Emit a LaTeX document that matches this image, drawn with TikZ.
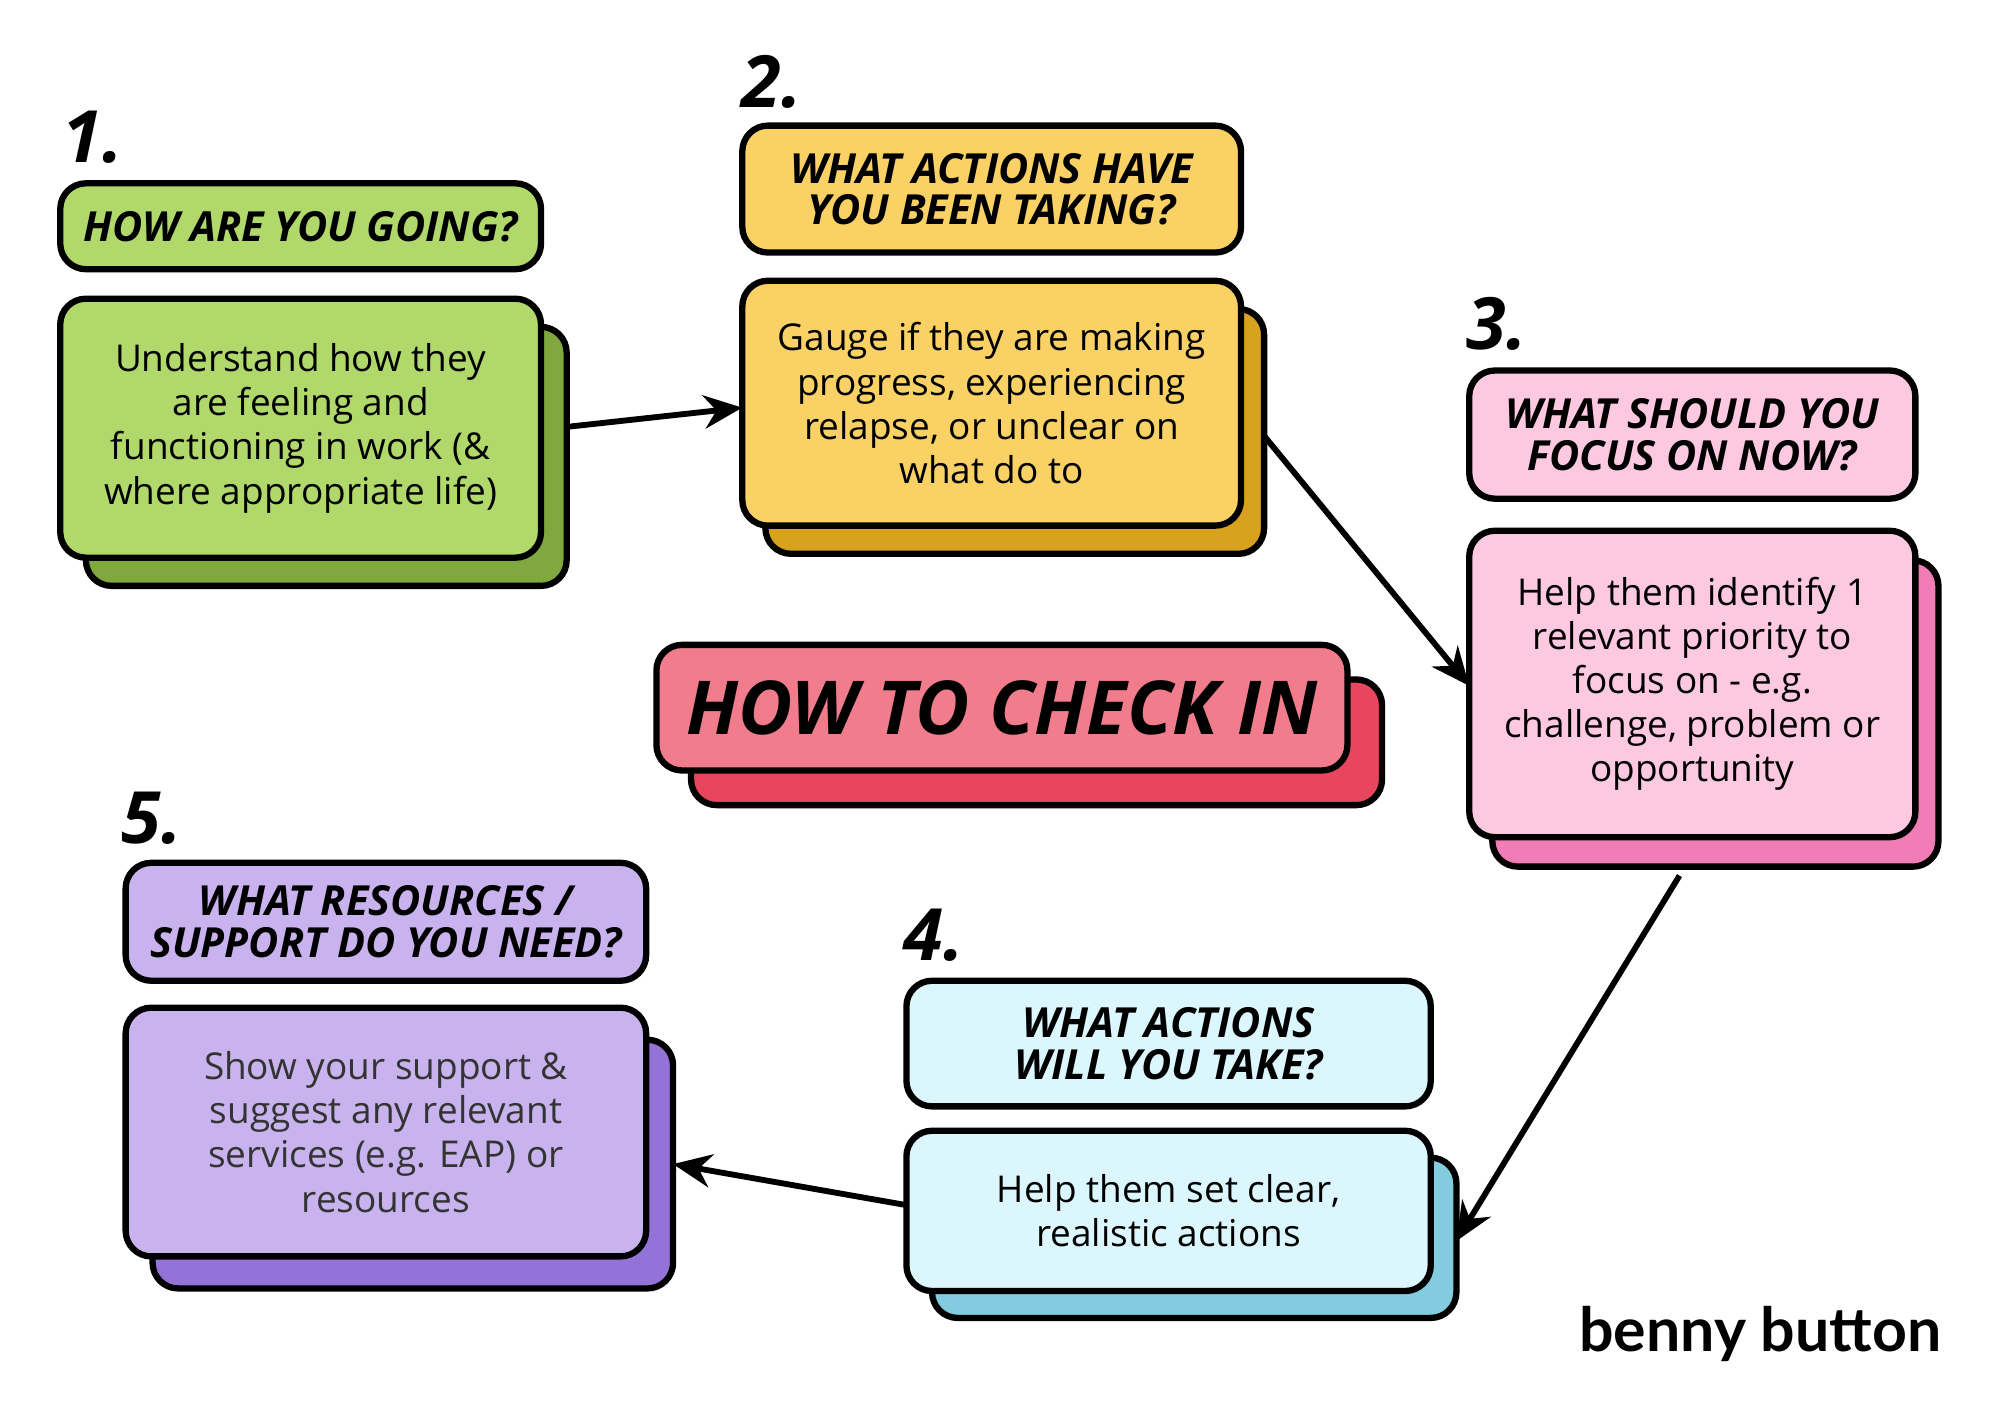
\documentclass[tikz,border=0pt]{standalone}
\usepackage{fontspec}
\setmainfont{Open Sans}
\newfontfamily\logofont{Lato}
\hyphenpenalty=10000
\usetikzlibrary{arrows.meta,positioning}
\definecolor{greenA}{HTML}{B0D86A}\definecolor{greenB}{HTML}{7FA83E}
\definecolor{yellowA}{HTML}{F9D164}\definecolor{yellowB}{HTML}{D9A21E}
\definecolor{pinkA}{HTML}{FDC9E0}\definecolor{pinkB}{HTML}{F07DB5}
\definecolor{redA}{HTML}{F07C8C}\definecolor{redB}{HTML}{E8465E}
\definecolor{lilacA}{HTML}{C8B3EE}\definecolor{lilacB}{HTML}{9473D8}
\definecolor{cyanA}{HTML}{DBF6FC}\definecolor{cyanB}{HTML}{83CBDE}
\tikzset{
  card/.style={draw=black, line width=1.4pt, rounded corners=2mm, anchor=north west, inner sep=0pt, align=center, outer sep=0pt},
  head/.style={card, font=\fontsize{9.2}{9.2}\selectfont\bfseries\itshape},
  body/.style={card, font=\fontsize{8.2}{9.8}\selectfont},
  num/.style={anchor=south west, inner sep=0pt, font=\fontsize{16}{16}\selectfont\bfseries\itshape},
  link/.style={draw=black, line width=1.3pt, -{Stealth[length=3mm,width=2.6mm]}}
}
\begin{document}
\begin{tikzpicture}[x=0.1mm,y=-0.1mm]
  \useasboundingbox[fill=white] (0,0) rectangle (1560,1103);
  % step 1
  \node[num] (n1) at (48,128) {1.};
  \node[head, fill=greenA, minimum width=37.5mm, minimum height=6.7mm] (h1) at (47,143) {HOW ARE YOU GOING?};
  \node[body, fill=greenB, minimum width=37.5mm, minimum height=20.2mm] (s1) at (67,255) {};
  \node[body, fill=greenA, minimum width=37.5mm, minimum height=20.2mm] (b1) at (47,233) {Understand how they\\are feeling and\\functioning in work (\&\\where appropriate life)};
  % step 2
  \node[num] (n2) at (578,85) {2.};
  \node[head, fill=yellowA, minimum width=38.9mm, minimum height=9.9mm] (h2) at (579,98) {WHAT ACTIONS HAVE\\YOU BEEN TAKING?};
  \node[body, fill=yellowB, minimum width=38.9mm, minimum height=19.1mm] (s2) at (597,241) {};
  \node[body, fill=yellowA, minimum width=38.9mm, minimum height=19.1mm] (b2) at (579,219) {Gauge if they are making\\progress, experiencing\\relapse, or unclear on\\what do to};
  % step 3
  \node[num] (n3) at (1143,274) {3.};
  \node[head, fill=pinkA, minimum width=34.8mm, minimum height=10mm] (h3) at (1146,289) {WHAT SHOULD YOU\\FOCUS ON NOW?};
  \node[body, fill=pinkB, minimum width=34.8mm, minimum height=23.9mm] (s3) at (1164,437) {};
  \node[body, fill=pinkA, minimum width=34.8mm, minimum height=23.9mm] (b3) at (1146,414) {Help them identify 1\\relevant priority to\\focus on - e.g.\\challenge, problem or\\opportunity};
  % title
  \node[card, fill=redB, minimum width=53.9mm, minimum height=9.8mm] (st) at (539,530) {};
  \node[card, fill=redA, minimum width=53.9mm, minimum height=9.8mm, font=\fontsize{16.5}{16.5}\selectfont\bfseries\itshape] (t) at (512,503) {HOW TO CHECK IN};
  % step 5
  \node[num] (n5) at (94,659) {5.};
  \node[head, fill=lilacA, minimum width=40.6mm, minimum height=9.2mm] (h5) at (98,673) {WHAT RESOURCES /\\SUPPORT DO YOU NEED?};
  \node[body, fill=lilacB, minimum width=40.6mm, minimum height=19.4mm] (s5) at (119,811) {};
  \node[body, fill=lilacA, minimum width=40.6mm, minimum height=19.4mm, text=black!80] (b5) at (98,786) {Show your support \&\\suggest any relevant\\services (e.g. EAP) or\\resources};
  % step 4
  \node[num] (n4) at (704,751) {4.};
  \node[head, fill=cyanA, minimum width=40.9mm, minimum height=9.8mm] (h4) at (707,765) {WHAT ACTIONS\\WILL YOU TAKE?};
  \node[body, fill=cyanB, minimum width=40.9mm, minimum height=12.5mm] (s4) at (727,903) {};
  \node[body, fill=cyanA, minimum width=40.9mm, minimum height=12.5mm] (b4) at (707,882) {Help them set clear,\\realistic actions};
  % logo
  \node[anchor=south east, inner sep=0pt, font=\fontsize{13.5}{13.5}\selectfont\logofont\bfseries] (logo) at (1515,1063) {benny button};
  % connectors
  \draw[link] (s1.east |- 0,333) -- (b2.west |- 0,318);
  \draw[link] (s2.east |- 0,340) -- (b3.west |- 0,535);
  \draw[link] (1310,683) -- (s4.east |- 0,968);
  \draw[link] (b4.west |- 0,940) -- (s5.east |- 0,908);
\end{tikzpicture}
\end{document}
